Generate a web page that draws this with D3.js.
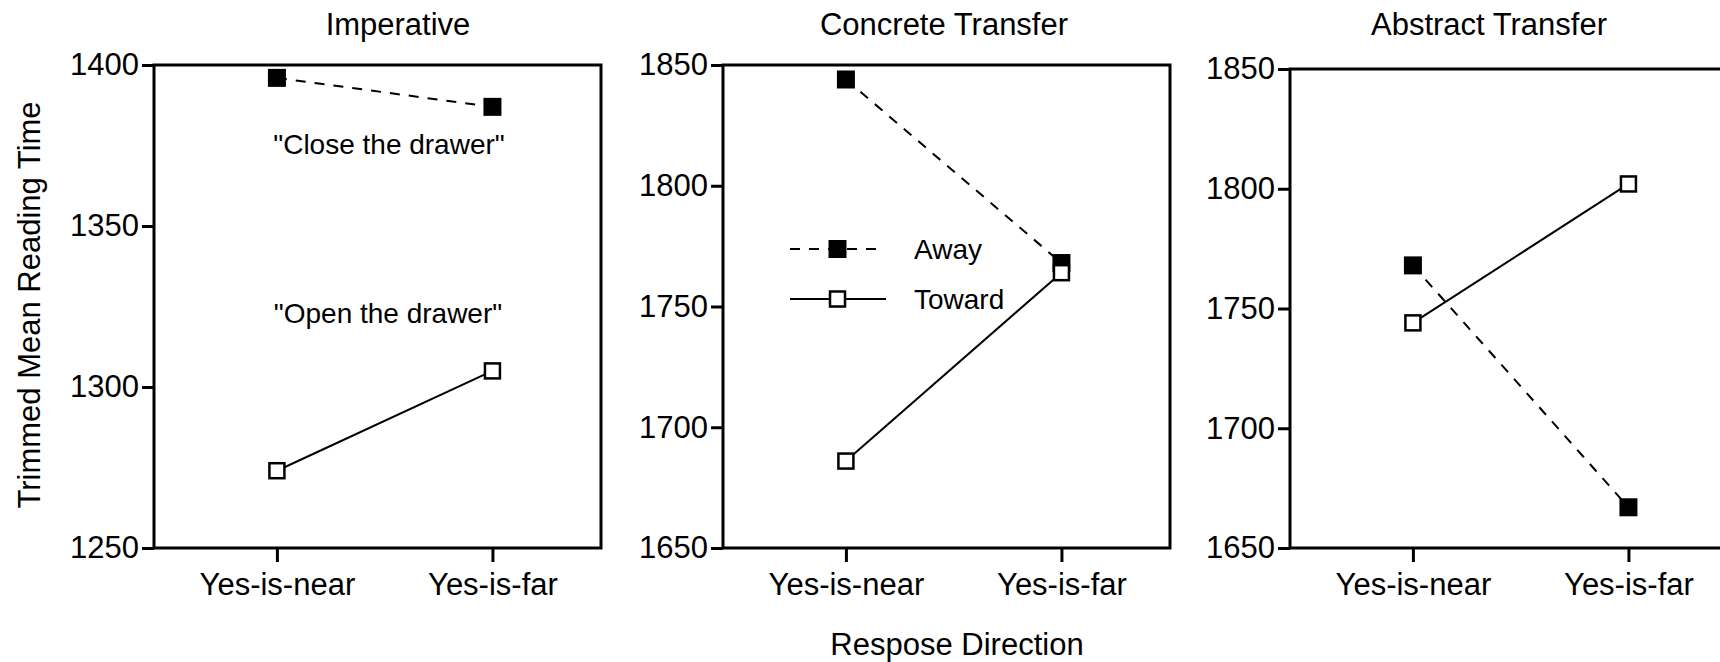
<!DOCTYPE html>
<html>
<head>
<meta charset="utf-8">
<script src="https://cdn.jsdelivr.net/npm/d3@7"></script>
<style>
  body { margin: 0; background: #fff; }
  svg { display: block; font-family: "Liberation Sans", Arial, sans-serif; }
  .frame { fill: none; stroke: #000; stroke-width: 3px; }
  .tick line { stroke: #000; stroke-width: 3px; }
  .tick text { font-size: 31px; fill: #000; }
  .away { fill: none; stroke: #000; stroke-width: 2px; stroke-dasharray: 10, 9; }
  .toward { fill: none; stroke: #000; stroke-width: 2px; }
  .label { font-size: 31px; fill: #000; }
  .note { font-size: 28px; fill: #000; }
</style>
</head>
<body>
<svg width="1720" height="662"></svg>
<script>
  // data
  var categories = ['Yes-is-near', 'Yes-is-far']
  var panelTitles = ['Imperative', 'Concrete Transfer', 'Abstract Transfer']
  var awayValues = [[1396, 1387], [1844, 1768], [1768, 1667]]
  var towardValues = [[1274, 1305], [1686, 1764], [1744, 1802]]
  var yDomains = [[1250, 1400], [1650, 1850], [1650, 1850]]
  var yTicks = [
    [1250, 1300, 1350, 1400],
    [1650, 1700, 1750, 1800, 1850],
    [1650, 1700, 1750, 1800, 1850]
  ]
  var seriesNames = ['Away', 'Toward']

  // layout of each panel
  var panelLeft = [154, 723, 1290]
  var panelTop = [65, 65, 69]
  var panelWidth = 447
  var panelBottom = 548
  var titleX = [398, 944, 1489]

  var svg = d3.select('svg')

  panelTitles.forEach(function(title, i) {
    var g = svg.append('g')
      .attr('transform', 'translate(' + panelLeft[i] + ',0)')

    var x = d3.scalePoint()
      .domain(categories)
      .range([0, panelWidth])
      .padding(0.537)
      .align(0.531)

    var y = d3.scaleLinear()
      .domain(yDomains[i])
      .range([panelBottom, panelTop[i]])

    // frame
    g.append('rect')
      .classed('frame', true)
      .attr('x', 0)
      .attr('y', y.range()[1])
      .attr('width', panelWidth)
      .attr('height', panelBottom - panelTop[i])

    var yAxis = g.append('g')
      .call(d3.axisLeft(y).tickValues(yTicks[i]).tickSize(12).tickPadding(3).tickFormat(d3.format('d')))
    yAxis.select('.domain').remove()

    var xAxis = g.append('g')
      .attr('transform', 'translate(0,' + panelBottom + ')')
      .call(d3.axisBottom(x).tickSize(14).tickPadding(11))
    xAxis.select('.domain').remove()

    svg.selectAll('.tick text').attr('font-family', null).attr('font-size', null)

    g.append('text')
      .classed('label', true)
      .attr('x', titleX[i] - panelLeft[i])
      .attr('y', 35)
      .attr('text-anchor', 'middle')
      .text(title)

    var line = d3.line()
      .x(function(d, j) { return x(categories[j]) })
      .y(function(d) { return y(d) })

    g.append('path').classed('away', true).attr('d', line(awayValues[i]))
    g.append('path').classed('toward', true).attr('d', line(towardValues[i]))

    g.selectAll('rect.away-pt')
      .data(awayValues[i])
      .enter()
      .append('rect')
      .attr('x', function(d, j) { return x(categories[j]) - 9 })
      .attr('y', function(d) { return y(d) - 9 })
      .attr('width', 18)
      .attr('height', 18)
      .attr('fill', '#000')

    g.selectAll('rect.toward-pt')
      .data(towardValues[i])
      .enter()
      .append('rect')
      .attr('x', function(d, j) { return x(categories[j]) - 7.5 })
      .attr('y', function(d) { return y(d) - 7.5 })
      .attr('width', 15)
      .attr('height', 15)
      .attr('fill', '#fff')
      .attr('stroke', '#000')
      .attr('stroke-width', 2.5)

    // notes in the first panel
    if (i === 0) {
      g.append('text').classed('note', true)
        .attr('x', 389 - panelLeft[i]).attr('y', 154)
        .attr('text-anchor', 'middle')
        .text('"Close the drawer"')
      g.append('text').classed('note', true)
        .attr('x', 388 - panelLeft[i]).attr('y', 323)
        .attr('text-anchor', 'middle')
        .text('"Open the drawer"')
    }

    // legend in the second panel
    if (i === 1) {
      var legend = g.append('g').attr('transform', 'translate(67,249)')
      seriesNames.forEach(function(name, k) {
        var row = legend.append('g').attr('transform', 'translate(0,' + (k * 50) + ')')
        row.append('line')
          .classed(k === 0 ? 'away' : 'toward', true)
          .attr('x1', 0).attr('x2', k === 0 ? 88 : 96)
        if (k === 0) {
          row.append('rect').attr('x', 38.5).attr('y', -9).attr('width', 18).attr('height', 18).attr('fill', '#000')
        } else {
          row.append('rect').attr('x', 40).attr('y', -7.5).attr('width', 15).attr('height', 15)
            .attr('fill', '#fff').attr('stroke', '#000').attr('stroke-width', 2.5)
        }
        row.append('text').classed('note', true)
          .attr('x', 124).attr('y', 10)
          .text(name)
      })
    }
  })

  // shared axis titles
  svg.append('text')
    .classed('label', true)
    .attr('text-anchor', 'middle')
    .attr('transform', 'translate(40,305) rotate(-90)')
    .text('Trimmed Mean Reading Time')

  svg.append('text')
    .classed('label', true)
    .attr('text-anchor', 'middle')
    .attr('x', 957)
    .attr('y', 655)
    .text('Respose Direction')
</script>
</body>
</html>
